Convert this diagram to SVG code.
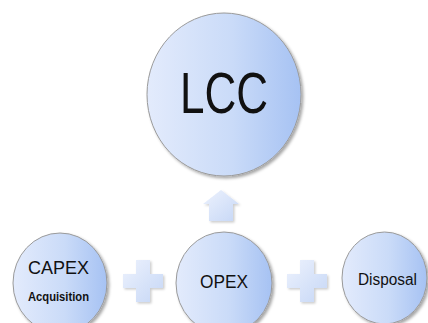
<svg xmlns="http://www.w3.org/2000/svg" width="428" height="323" viewBox="0 0 428 323">
  <defs>
    <linearGradient id="ballGrad" x1="0" y1="0" x2="1" y2="0">
      <stop offset="0" stop-color="#e3ebfc"/>
      <stop offset="0.55" stop-color="#cadbf8"/>
      <stop offset="1" stop-color="#a6c2f3"/>
    </linearGradient>
    <linearGradient id="signGrad" x1="0" y1="0" x2="1" y2="1">
      <stop offset="0" stop-color="#edf2fd"/>
      <stop offset="1" stop-color="#c6d7f6"/>
    </linearGradient>
    <filter id="shadow" x="-20%" y="-20%" width="150%" height="150%">
      <feDropShadow dx="2" dy="2" stdDeviation="1.5" flood-color="#000" flood-opacity="0.35"/>
    </filter>
    <filter id="softShadow" x="-20%" y="-20%" width="150%" height="150%">
      <feDropShadow dx="1.5" dy="1.5" stdDeviation="1.2" flood-color="#000" flood-opacity="0.2"/>
    </filter>
  </defs>
  <style>
    .ball { fill: url(#ballGrad); stroke: #9a9a9a; stroke-width: 1; filter: url(#shadow); }
    .sign { fill: url(#signGrad); stroke: none; filter: url(#softShadow); }
    .lbl { font-family: "Liberation Sans", Arial, sans-serif; fill: #111; }
  </style>
  <rect width="428" height="323" fill="#ffffff"/>

  <g id="connectors">
    <path class="sign" d="M221,190 L239,204 L233,204 L233,221 L209,221 L209,204 L203,204 Z"/>
    <path class="sign" d="M136,260 H150 V274 H163 V288 H150 V302 H136 V288 H123 V274 H136 Z"/>
    <path class="sign" d="M300,260 H314 V274 H327 V288 H314 V302 H300 V288 H287 V274 H300 Z"/>
  </g>

  <g id="lcc">
    <ellipse class="ball" cx="224" cy="94.5" rx="77" ry="81.5"/>
    <text class="lbl" x="180" y="113" font-size="58" textLength="88" lengthAdjust="spacingAndGlyphs">LCC</text>
  </g>

  <g id="capex">
    <ellipse class="ball" cx="60" cy="283" rx="47" ry="50"/>
    <text class="lbl" x="28" y="274" font-size="18" textLength="61" lengthAdjust="spacingAndGlyphs">CAPEX</text>
    <text class="lbl" x="28" y="301" font-size="12" font-weight="bold" textLength="61" lengthAdjust="spacingAndGlyphs">Acquisition</text>
  </g>

  <g id="opex">
    <ellipse class="ball" cx="224" cy="283" rx="48" ry="51"/>
    <text class="lbl" x="200" y="288" font-size="19" textLength="48" lengthAdjust="spacingAndGlyphs">OPEX</text>
  </g>

  <g id="disposal">
    <ellipse class="ball" cx="384.5" cy="278" rx="42.5" ry="46"/>
    <text class="lbl" x="358" y="285" font-size="16" textLength="59" lengthAdjust="spacingAndGlyphs">Disposal</text>
  </g>
</svg>
